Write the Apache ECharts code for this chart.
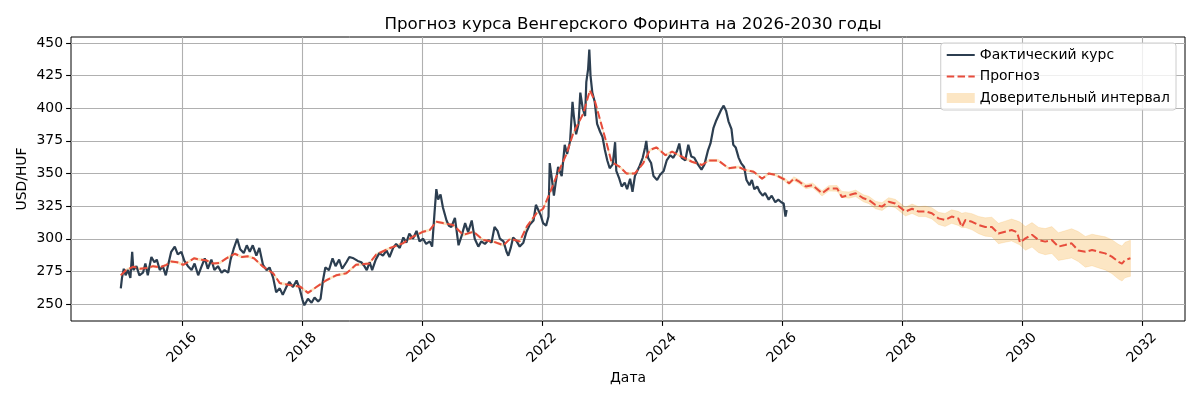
<!DOCTYPE html>
<html><head><meta charset="utf-8">
<script src="https://cdn.jsdelivr.net/npm/echarts@6/dist/echarts.min.js"></script>
<style>html,body{margin:0;padding:0;background:#fff}#chart{width:1200px;height:400px}</style>
</head><body><div id="chart"></div>
<script>
// ---- Data (decimal year, USD/HUF) ----
const actual = [
[2014.98,262],[2015.0,270],[2015.03,277],[2015.06,272],[2015.1,276],[2015.14,270],[2015.17,290],[2015.19,276],
[2015.24,279],[2015.29,272],[2015.35,274],[2015.39,281],[2015.43,272],[2015.49,286],[2015.54,282],[2015.58,284],
[2015.63,276],[2015.68,279],[2015.73,272],[2015.77,280],[2015.82,290],[2015.88,294],[2015.93,288],[2015.99,290],
[2016.04,283],[2016.1,279],[2016.16,276],[2016.21,281],[2016.27,272],[2016.32,278],[2016.38,285],[2016.43,277],
[2016.49,284],[2016.54,276],[2016.6,279],[2016.66,274],[2016.71,276],[2016.77,274],[2016.81,284],[2016.86,292],
[2016.92,300],[2016.97,292],[2017.03,289],[2017.08,295],[2017.13,290],[2017.18,295],[2017.24,287],[2017.29,293],
[2017.35,280],[2017.41,276],[2017.46,278],[2017.52,270],[2017.57,259],[2017.63,262],[2017.68,257],[2017.74,263],
[2017.79,267],[2017.85,263],[2017.91,268],[2017.96,262],[2018.01,253],[2018.04,249],[2018.1,254],[2018.16,251],
[2018.21,255],[2018.27,252],[2018.31,254],[2018.35,268],[2018.39,278],[2018.45,276],[2018.51,285],[2018.56,279],
[2018.62,284],[2018.67,277],[2018.74,282],[2018.79,286],[2018.86,285],[2018.93,283],[2018.99,282],[2019.04,279],
[2019.08,276],[2019.13,282],[2019.17,276],[2019.23,284],[2019.29,289],[2019.35,287],[2019.41,291],[2019.46,286],
[2019.52,293],[2019.57,296],[2019.63,293],[2019.69,301],[2019.74,297],[2019.79,304],[2019.85,300],[2019.91,306],
[2019.96,298],[2020.02,300],[2020.07,296],[2020.13,298],[2020.17,294],[2020.21,320],[2020.24,338],[2020.27,330],
[2020.31,334],[2020.35,324],[2020.41,314],[2020.45,310],[2020.49,309],[2020.55,316],[2020.61,295],[2020.66,302],
[2020.72,312],[2020.77,305],[2020.83,314],[2020.88,300],[2020.94,294],[2020.99,298],[2021.05,296],[2021.11,299],
[2021.16,297],[2021.21,309],[2021.26,306],[2021.3,300],[2021.36,298],[2021.41,290],[2021.44,287],[2021.48,293],
[2021.52,301],[2021.58,298],[2021.63,294],[2021.69,297],[2021.74,305],[2021.8,311],[2021.86,314],[2021.9,326],
[2021.94,322],[2021.98,318],[2022.02,312],[2022.07,310],[2022.11,317],[2022.13,358],[2022.16,348],[2022.2,333],
[2022.23,343],[2022.27,355],[2022.33,348],[2022.38,372],[2022.42,365],[2022.47,375],[2022.51,405],[2022.53,395],
[2022.57,380],[2022.61,388],[2022.64,412],[2022.68,400],[2022.72,394],[2022.74,420],[2022.77,430],[2022.79,445],
[2022.81,425],[2022.84,412],[2022.88,405],[2022.92,388],[2022.97,382],[2023.01,378],[2023.05,368],[2023.09,360],
[2023.13,354],[2023.18,357],[2023.22,374],[2023.24,352],[2023.29,346],[2023.33,340],[2023.38,343],[2023.42,338],
[2023.47,346],[2023.51,336],[2023.55,348],[2023.59,352],[2023.63,356],[2023.68,362],[2023.72,370],[2023.74,375],
[2023.77,362],[2023.82,358],[2023.86,348],[2023.92,345],[2023.97,349],[2024.03,352],[2024.08,360],[2024.14,364],
[2024.19,362],[2024.25,367],[2024.29,373],[2024.33,362],[2024.39,360],[2024.44,372],[2024.49,363],[2024.54,362],
[2024.6,357],[2024.66,353],[2024.71,357],[2024.77,368],[2024.81,373],[2024.86,385],[2024.9,390],[2024.94,394],
[2024.99,399],[2025.03,402],[2025.07,398],[2025.11,390],[2025.16,384],[2025.19,372],[2025.23,370],[2025.28,362],
[2025.32,358],[2025.37,355],[2025.41,345],[2025.46,341],[2025.5,345],[2025.54,338],[2025.59,340],[2025.63,336],
[2025.68,333],[2025.72,335],[2025.78,330],[2025.83,333],[2025.89,328],[2025.94,330],[2025.99,328],[2026.03,327],
[2026.06,317],[2026.08,322]
];

const forecast = [
[2014.98,272],[2015.07,276],[2015.19,278.6],[2015.3,277],[2015.41,277.5],[2015.52,279],[2015.63,278],[2015.74,280],
[2015.82,282.5],[2015.92,282],[2016.02,280],[2016.13,283],[2016.2,285],[2016.3,284],[2016.4,283.5],[2016.52,281],
[2016.63,281.5],[2016.74,285],[2016.88,288.5],[2017.0,286],[2017.1,286.5],[2017.2,285],[2017.35,278.6],[2017.52,273.5],
[2017.63,266],[2017.8,264.5],[2017.97,263.3],[2018.1,258.5],[2018.24,263],[2018.4,268],[2018.57,272],[2018.74,273.5],
[2018.9,280],[2019.12,281],[2019.24,288],[2019.46,292.7],[2019.68,296.5],[2019.85,301.6],[2020.02,305.4],[2020.13,306.7],
[2020.24,313],[2020.35,312],[2020.52,310.5],[2020.69,303],[2020.86,305.4],[2021.02,299],[2021.19,297.8],[2021.36,295],
[2021.47,300],[2021.63,298],[2021.75,309.5],[2021.91,319.5],[2022.02,323],[2022.13,334.8],[2022.24,347.6],[2022.41,365],
[2022.52,380.5],[2022.69,396],[2022.8,413.7],[2022.88,406],[2022.97,391],[2023.08,373],[2023.16,358.8],[2023.3,355],
[2023.41,350],[2023.55,350],[2023.69,358],[2023.8,368],[2023.91,370],[2024.06,364],[2024.17,366.7],[2024.33,363],
[2024.5,359],[2024.67,356.5],[2024.78,360],[2024.94,360],[2025.11,354],[2025.28,355],[2025.39,352.7],[2025.53,351.4],
[2025.67,346],[2025.78,350],[2025.89,349],[2026.04,345.5],[2026.12,342.5],[2026.2,346],[2026.29,343.7],[2026.4,340],
[2026.51,341],[2026.67,334.8],[2026.78,338.6],[2026.92,338.6],[2027.0,332],[2027.12,333.5],[2027.23,334.8],[2027.36,331],
[2027.45,329.7],[2027.56,325.9],[2027.67,324.6],[2027.78,328.4],[2027.89,327],[2028.0,323],[2028.06,320.8],[2028.17,323],
[2028.28,320.8],[2028.39,321],[2028.5,319.5],[2028.61,315.6],[2028.72,314.4],[2028.83,317],[2028.94,315.6],[2029.0,309],
[2029.06,314.4],[2029.17,313],[2029.28,310.5],[2029.39,309],[2029.5,309],[2029.61,304],[2029.72,305.4],[2029.83,306.7],
[2029.92,305],[2029.97,297],[2030.06,300.3],[2030.17,303],[2030.28,299],[2030.39,297.8],[2030.5,299],[2030.61,294],
[2030.72,295.2],[2030.83,296.5],[2030.94,291],[2031.06,290],[2031.17,291.4],[2031.28,290],[2031.39,288.8],[2031.5,286.3],
[2031.61,282.4],[2031.67,281],[2031.72,283.7],[2031.81,285]
];

// [date, lower, upper]
const band = [
[2014.98,271.2,272.8],[2015.07,275.2,276.8],[2015.19,277.8,279.4],[2015.3,276.2,277.8],[2015.41,276.7,278.3],[2015.52,278.2,279.8],
[2015.63,277.2,278.8],[2015.74,279.2,280.8],[2015.82,281.7,283.3],[2015.92,281.2,282.8],[2016.02,279.2,280.8],[2016.13,282.2,283.8],
[2016.2,284.2,285.8],[2016.3,283.2,284.8],[2016.4,282.7,284.3],[2016.52,280.2,281.8],[2016.63,280.7,282.3],[2016.74,284.2,285.8],
[2016.88,287.7,289.3],[2017.0,285.2,286.8],[2017.1,285.7,287.3],[2017.2,284.2,285.8],[2017.35,277.8,279.4],[2017.52,272.7,274.3],
[2017.63,265.2,266.8],[2017.8,263.7,265.3],[2017.97,262.5,264.1],[2018.1,257.7,259.3],[2018.24,262.2,263.8],[2018.4,267.2,268.8],
[2018.57,271.2,272.8],[2018.74,272.7,274.3],[2018.9,279.2,280.8],[2019.12,280.2,281.8],[2019.24,287.2,288.8],[2019.46,291.9,293.5],
[2019.68,295.7,297.3],[2019.85,300.8,302.4],[2020.02,304.6,306.2],[2020.13,305.9,307.5],[2020.24,312.2,313.8],[2020.35,311.2,312.8],
[2020.52,309.7,311.3],[2020.69,302.2,303.8],[2020.86,304.6,306.2],[2021.02,298.2,299.8],[2021.19,297,298.6],[2021.36,294.2,295.8],
[2021.47,299.2,300.8],[2021.63,297.2,298.8],[2021.75,308.7,310.3],[2021.91,318.7,320.3],[2022.02,322.2,323.8],[2022.13,334,335.6],
[2022.24,346.8,348.4],[2022.41,364.2,365.8],[2022.52,379.7,381.3],[2022.69,395.2,396.8],[2022.8,412.9,414.5],[2022.88,405.2,406.8],
[2022.97,390.2,391.8],[2023.08,372.2,373.8],[2023.16,358,359.6],[2023.3,354.2,355.8],[2023.41,349.2,350.8],[2023.55,349.2,350.8],
[2023.69,357.2,358.8],[2023.8,367.2,368.8],[2023.91,369.2,370.8],[2024.06,363.2,364.8],[2024.17,365.9,367.5],[2024.33,362.2,363.8],
[2024.5,358.2,359.8],[2024.67,355.7,357.3],[2024.78,359.2,360.8],[2024.94,359.2,360.8],[2025.11,353.2,354.8],[2025.28,354.2,355.8],
[2025.39,351.9,353.5],[2025.53,350.6,352.2],[2025.67,345.2,346.8],[2025.78,349.2,350.8],[2025.89,348.2,349.8],
[2026.04,344.3,346.7],[2026.12,341.1,343.9],[2026.2,344.5,347.5],[2026.29,342.1,345.3],[2026.4,338.3,341.7],[2026.51,339.2,342.8],
[2026.67,332.8,336.8],[2026.78,336.5,340.7],[2026.92,336.4,340.8],[2027.0,331.7,336.3],[2027.12,331.1,335.9],[2027.23,332.3,337.3],
[2027.36,328.3,333.7],[2027.45,326.9,332.5],[2027.56,323,328.8],[2027.67,321.6,327.6],[2027.78,325.3,331.5],[2027.89,323.8,330.2],
[2028.0,319.7,326.3],[2028.06,317.4,324.2],[2028.17,319.4,326.6],[2028.28,317,324.6],[2028.39,317,325],[2028.5,315.2,323.8],
[2028.61,310.9,320.3],[2028.72,309.4,319.4],[2028.83,311.8,322.2],[2028.94,310.2,321],[2029.0,308.5,319.5],[2029.06,308.6,320.2],
[2029.17,306.8,319.2],[2029.28,303.9,317.1],[2029.39,302,316],[2029.5,301.5,316.5],[2029.61,296.2,311.8],[2029.72,297.3,313.5],
[2029.83,298.3,315.1],[2029.92,296.3,313.7],[2029.97,295.2,312.8],[2030.06,291.2,309.4],[2030.17,293.6,312.4],[2030.28,289.3,308.7],
[2030.39,287.8,307.8],[2030.5,288.7,309.3],[2030.61,283.4,304.6],[2030.72,284.3,306.1],[2030.83,285.3,307.7],[2030.94,282.5,305.5],
[2031.06,278.2,301.8],[2031.17,279.3,303.5],[2031.28,277.6,302.4],[2031.39,276.1,301.5],[2031.5,273.3,299.3],[2031.61,269.1,295.7],
[2031.67,267.6,294.4],[2031.72,270.1,297.3],[2031.81,271.2,298.8]
];

const xTickYears = [2016, 2018, 2020, 2022, 2024, 2026, 2028, 2030, 2032];
const yTickValues = [250, 275, 300, 325, 350, 375, 400, 425, 450];

const TITLE = 'Прогноз курса Венгерского Форинта на 2026-2030 годы';
const NAMES = ['Фактический курс', 'Прогноз', 'Доверительный интервал'];

// ---- Chart ----
const FONT = 'DejaVu Sans';
const GRIDC = '#b0b0b0';
const bandColor = 'rgba(243,156,18,0.25)';
const chart = echarts.init(document.getElementById('chart'), null, {renderer: 'canvas'});

// legend icons (28 x 10 boxes; tiny corner specks fix the bounding box)
const CORNERS = 'M0,0h0.01v0.01h-0.01Z M27.99,9.99h0.01v0.01h-0.01Z ';
const ICON_SOLID = 'path://' + CORNERS + 'M0,4h28v2h-28Z';
const ICON_DASH = 'path://' + CORNERS + 'M0,4h7.5v2h-7.5Z M10.8,4h7.5v2h-7.5Z M21.6,4h6.4v2h-6.4Z';

chart.setOption({
  animation: false,
  backgroundColor: '#fff',
  title: {
    text: TITLE, left: 628, top: 11, textAlign: 'center',
    textStyle: {fontFamily: FONT, fontSize: 16.7, fontWeight: 'normal', color: '#000'}
  },
  legend: {
    data: [
      {name: NAMES[0], icon: ICON_SOLID, itemStyle: {color: '#2c3e50'}},
      {name: NAMES[1], icon: ICON_DASH, itemStyle: {color: '#e74c3c'}},
      {name: NAMES[2], icon: 'rect', itemStyle: {color: bandColor}}
    ],
    orient: 'vertical', right: 24, top: 43,
    backgroundColor: 'rgba(255,255,255,0.8)', borderColor: '#cccccc', borderWidth: 1, borderRadius: 3,
    padding: [5, 6, 5, 6], itemGap: 7.5, itemWidth: 28, itemHeight: 10,
    textStyle: {fontFamily: FONT, fontSize: 13.9, color: '#000'}
  },
  grid: [
    {left: 71, right: 15, top: 37, bottom: 79, show: true, borderColor: '#000', borderWidth: 1, backgroundColor: 'transparent'},
    {left: 182, right: 58, top: 37, bottom: 79},
    {left: 71, right: 15, top: 43, bottom: 96}
  ],
  xAxis: [
    {gridIndex: 0, type: 'value', min: 2014.15, max: 2032.72,
     axisLine: {show: false}, axisTick: {show: false}, axisLabel: {show: false}, splitLine: {show: false},
     name: 'Дата', nameLocation: 'middle', nameGap: 50,
     nameTextStyle: {fontFamily: FONT, fontSize: 13.9, color: '#000'}},
    {gridIndex: 1, type: 'value', min: xTickYears[0], max: xTickYears[xTickYears.length - 1],
     interval: xTickYears[1] - xTickYears[0],
     axisLine: {show: false},
     axisTick: {show: true, length: 4.9, lineStyle: {color: '#000', width: 1.1}},
     axisLabel: {show: true, rotate: 45, align: 'center', verticalAlign: 'middle', margin: 27,
       fontFamily: FONT, fontSize: 13.9, color: '#000', formatter: v => String(v)},
     splitLine: {show: true, lineStyle: {color: GRIDC, width: 1.1}}},
    {gridIndex: 2, type: 'value', min: 0, max: 1, show: false}
  ],
  yAxis: [
    {gridIndex: 0, type: 'value', min: 236.97, max: 454.6,
     axisLine: {show: false}, axisTick: {show: false}, axisLabel: {show: false}, splitLine: {show: false},
     name: 'USD/HUF', nameLocation: 'middle', nameGap: 42, nameRotate: 90,
     nameTextStyle: {fontFamily: FONT, fontSize: 13.9, color: '#000'}},
    {gridIndex: 1, type: 'value', min: 0, max: 1, show: false},
    {gridIndex: 2, type: 'value', min: yTickValues[0], max: yTickValues[yTickValues.length - 1],
     interval: yTickValues[1] - yTickValues[0],
     axisLine: {show: false},
     axisTick: {show: true, length: 4.9, lineStyle: {color: '#000', width: 1.1}},
     axisLabel: {show: true, margin: 8, fontFamily: FONT, fontSize: 13.9, color: '#000', formatter: v => String(v)},
     splitLine: {show: true, lineStyle: {color: GRIDC, width: 1.1}}}
  ],
  series: [
    {name: NAMES[2], type: 'custom', xAxisIndex: 0, yAxisIndex: 0, data: band,
     encode: {x: 0, y: [1, 2]}, itemStyle: {color: bandColor}, silent: true, z: 1, clip: true,
     renderItem: function (params, api) {
       if (params.dataIndex !== 0) return null;
       const upper = band.map(r => api.coord([r[0], r[2]]));
       const lower = band.map(r => api.coord([r[0], r[1]])).reverse();
       return {type: 'polygon', shape: {points: upper.concat(lower)},
               style: {fill: bandColor, stroke: bandColor, lineWidth: 0.6}};
     }},
    {name: NAMES[0], type: 'line', xAxisIndex: 0, yAxisIndex: 0, data: actual,
     symbol: 'none', itemStyle: {color: '#2c3e50'}, lineStyle: {color: '#2c3e50', width: 2.2}, z: 3},
    {name: NAMES[1], type: 'line', xAxisIndex: 0, yAxisIndex: 0, data: forecast,
     symbol: 'none', itemStyle: {color: '#e74c3c'},
     lineStyle: {color: '#e74c3c', width: 2, type: [7.7, 3.3]}, z: 4}
  ]
});
</script>
</body></html>
